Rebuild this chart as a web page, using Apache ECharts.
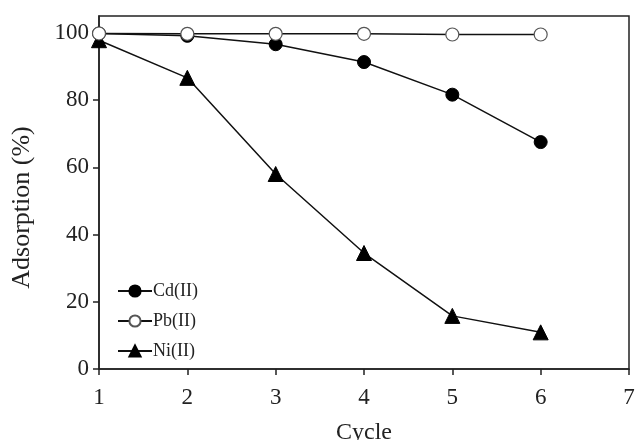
<!DOCTYPE html>
<html>
<head>
<meta charset="utf-8">
<script src="https://cdn.jsdelivr.net/npm/echarts@6/dist/echarts.min.js"></script>
<style>html,body{margin:0;padding:0;background:#fff}#c{width:636px;height:440px}</style>
</head>
<body>
<div id="c"></div>
<script>
var cycles = [1, 2, 3, 4, 5, 6];
var cd = [99.8, 99.1, 96.6, 91.3, 81.6, 67.5];
var pb = [99.8, 99.7, 99.7, 99.7, 99.5, 99.5];
var ni = [97.8, 86.6, 58.0, 34.5, 15.8, 10.9];
var yTicks = [0, 20, 40, 60, 80, 100];
var xTicks = [1, 2, 3, 4, 5, 6, 7];

function pairs(v) { return cycles.map(function (c, i) { return [c, v[i]]; }); }

var font = '"Liberation Serif", "Times New Roman", serif';
var chart = echarts.init(document.getElementById('c'));
chart.setOption({
  animation: false,
  backgroundColor: '#fff',
  grid: { left: 99, right: 7, top: 16, bottom: 71, show: true, borderColor: '#222', borderWidth: 1.5,
    containLabel: false, outerBoundsMode: 'none' },
  legend: {
    orient: 'vertical', left: 112, top: 277, itemGap: 12, itemWidth: 34, itemHeight: 14,
    textStyle: { fontFamily: font, fontSize: 18, color: '#222', padding: [0, 0, 0, -4] },
    data: ['Cd(II)', 'Pb(II)', 'Ni(II)']
  },
  xAxis: {
    type: 'value', min: 1, max: 7, interval: 1,
    name: 'Cycle', nameLocation: 'middle', nameGap: 52,
    nameTextStyle: { fontFamily: font, fontSize: 24, color: '#222' },
    axisLine: { lineStyle: { color: '#222', width: 1.5 } },
    axisTick: { show: true, length: 6, lineStyle: { color: '#222', width: 1.5 }, customValues: xTicks },
    axisLabel: { fontFamily: font, fontSize: 23, color: '#222', margin: 17, customValues: xTicks },
    splitLine: { show: false }
  },
  yAxis: {
    type: 'value', min: 0, max: 105, interval: 20,
    name: 'Adsorption (%)', nameLocation: 'middle', nameGap: 64, nameRotate: 90,
    nameTextStyle: { fontFamily: font, fontSize: 26, color: '#222', padding: [0, 30, 0, 0] },
    axisLine: { show: true, lineStyle: { color: '#222', width: 1.5 } },
    axisTick: { show: true, length: 6, lineStyle: { color: '#222', width: 1.5 }, customValues: yTicks },
    axisLabel: { fontFamily: font, fontSize: 23, color: '#222', margin: 10, customValues: yTicks },
    splitLine: { show: false }
  },
  series: [
    { name: 'Cd(II)', type: 'line', data: pairs(cd), z: 3, symbol: 'circle', symbolSize: 13,
      lineStyle: { color: '#111', width: 1.5 }, itemStyle: { color: '#000', borderColor: '#000', borderWidth: 1 } },
    { name: 'Pb(II)', type: 'line', data: pairs(pb), z: 4, symbol: 'circle', symbolSize: 13,
      lineStyle: { color: '#111', width: 1.5 }, itemStyle: { color: '#fff', borderColor: '#555', borderWidth: 1.2 } },
    { name: 'Ni(II)', type: 'line', data: pairs(ni), z: 2, symbol: 'triangle', symbolSize: 15,
      lineStyle: { color: '#111', width: 1.5 }, itemStyle: { color: '#000', borderColor: '#000', borderWidth: 1 } }
  ]
});
</script>
</body>
</html>
